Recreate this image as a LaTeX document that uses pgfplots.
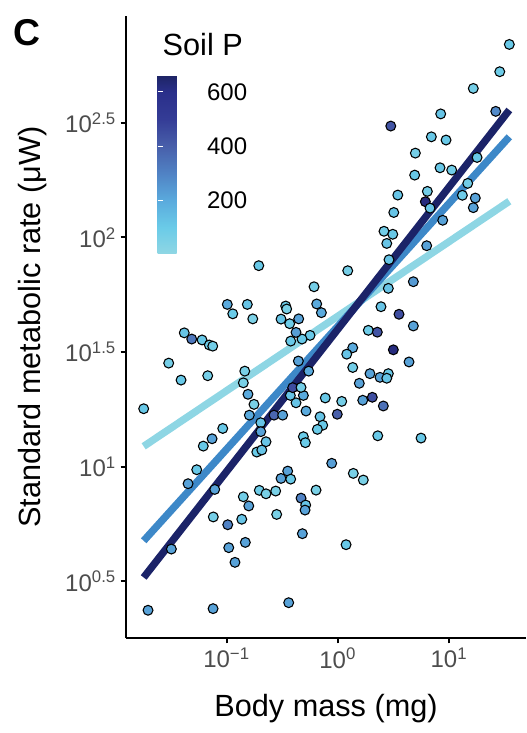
\documentclass[border=0pt]{standalone}
\usepackage{pgfplots}
\usepackage{pgfplotstable}
\pgfplotsset{compat=1.18}
\usepackage{fontspec}
\setmainfont{Liberation Sans}
\definecolor{tickgray}{HTML}{4D4D4D}
\definecolor{lineLow}{HTML}{8ED6E4}
\definecolor{lineMid}{HTML}{3D88C8}
\definecolor{lineHigh}{HTML}{1B2368}

% log10 body mass (mg), log10 SMR (uW), soil P
\pgfplotstableread{
lx ly P
1.543 2.842 110
1.457 2.723 90
1.219 2.650 70
1.421 2.550 280
0.926 2.539 120
0.477 2.486 430
0.842 2.439 110
0.974 2.425 110
0.698 2.368 70
1.253 2.349 110
0.920 2.304 110
1.025 2.294 80
0.692 2.272 110
0.540 2.185 120
0.806 2.201 80
0.788 2.156 620
0.830 2.128 120
1.169 2.236 80
1.121 2.184 90
1.237 2.172 220
1.219 2.130 220
0.504 2.109 120
0.944 2.075 220
0.416 2.027 80
0.495 2.014 110
0.441 1.974 120
0.800 1.964 220
0.461 1.903 120
-0.710 1.877 110
0.090 1.855 70
0.680 1.807 240
0.455 1.778 120
-0.213 1.785 70
0.389 1.698 120
0.551 1.665 450
0.680 1.614 220
0.275 1.595 90
0.356 1.587 430
0.135 1.519 200
0.081 1.491 120
0.500 1.510 620
0.641 1.457 220
0.135 1.433 80
0.290 1.406 220
0.455 1.406 110
0.380 1.390 220
0.441 1.386 120
0.194 1.364 220
0.036 1.285 70
0.225 1.290 220
0.311 1.303 450
0.410 1.265 350
-0.004 1.229 400
0.749 1.125 110
0.360 1.135 110
0.140 0.971 60
0.230 0.942 60
0.075 0.660 110
-0.054 1.015 230
-0.195 0.898 60
-0.112 1.300 110
-0.159 1.218 120
-0.135 1.181 110
-0.183 1.163 100
-0.309 1.131 100
-0.291 1.105 100
-0.285 1.243 200
-0.375 1.279 120
-0.426 1.311 120
-0.309 1.311 200
-0.405 1.345 450
-0.330 1.346 70
-0.573 1.225 380
-0.495 1.225 220
-0.354 1.461 220
-0.261 1.417 200
-0.249 1.573 110
-0.321 1.557 110
-0.423 1.548 110
-0.375 1.586 230
-0.432 1.624 90
-0.351 1.645 220
-0.510 1.644 120
-0.468 1.701 100
-0.459 1.688 60
-0.189 1.710 200
-0.147 1.672 200
-0.993 1.708 200
-0.813 1.708 120
-0.944 1.667 100
-0.764 1.645 50
-0.836 1.417 60
-0.849 1.366 60
-0.807 1.316 200
-0.753 1.272 60
-0.795 1.225 200
-0.692 1.192 120
-0.692 1.153 220
-0.645 1.109 120
-0.728 1.064 100
-0.683 1.073 120
-0.450 0.981 220
-0.510 0.949 220
-0.423 0.946 110
-0.705 0.897 90
-0.645 0.882 60
-0.558 0.894 60
-0.849 0.869 80
-0.800 0.829 220
-0.330 0.863 300
-0.288 0.833 120
-0.294 0.811 220
-0.549 0.792 60
-0.863 0.771 120
-1.119 0.781 70
-0.989 0.747 300
-0.318 0.708 220
-0.831 0.670 220
-0.980 0.647 220
-1.496 0.641 220
-0.924 0.583 220
-1.706 0.374 220
-1.121 0.381 220
-0.441 0.407 220
-1.380 1.584 120
-1.313 1.557 330
-1.220 1.553 110
-1.155 1.531 90
-1.124 1.526 80
-1.520 1.452 70
-1.409 1.378 110
-1.169 1.397 70
-1.745 1.253 110
-1.034 1.167 110
-1.130 1.122 220
-1.209 1.090 110
-1.268 0.987 110
-1.346 0.926 220
-1.106 0.901 220
}\pts

% fitted lines (log10 scale)
\pgfplotstableread{
lx ly
-1.745 1.089
1.543 2.158
}\lineLowT
\pgfplotstableread{
lx ly
-1.745 0.677
1.543 2.439
}\lineMidT
\pgfplotstableread{
lx ly
-1.745 0.517
1.543 2.556
}\lineHighT

\begin{document}
\begin{tikzpicture}
\useasboundingbox (-94.5pt,-71.25pt) rectangle (300pt,478.5pt);
\begin{axis}[
  scale only axis,
  width=300pt, height=466.5pt,
  xmin=-1.904, xmax=1.693,
  ymin=0.253, ymax=2.966,
  axis lines=left,
  axis line style={-, line width=1.5pt, black},
  xtick={-1,0,1},
  xticklabels={10\textsuperscript{−1},10\textsuperscript{0},10\textsuperscript{1}},
  ytick={0.5,1,1.5,2,2.5},
  yticklabels={10\textsuperscript{0.5},10\textsuperscript{1},10\textsuperscript{1.5},10\textsuperscript{2},10\textsuperscript{2.5}},
  tick align=outside,
  major tick length=4pt,
  every tick/.style={black, line width=1.5pt},
  ticklabel style={font=\fontsize{18}{20}\selectfont, text=tickgray},
  xlabel={Body mass (mg)},
  ylabel={Standard metabolic rate (μW)},
  label style={font=\fontsize{23}{26}\selectfont},
  xlabel style={at={(axis description cs:0.5,-0.114)}, anchor=center},
  ylabel style={at={(axis description cs:-0.2325,0.5)}, anchor=center},
  colormap={soil}{rgb255(5)=(142,214,228); rgb255(100)=(106,203,232); rgb255(200)=(90,170,221); rgb255(300)=(80,130,196); rgb255(400)=(72,95,170); rgb255(500)=(52,60,150); rgb255(600)=(42,47,138); rgb255(662)=(29,36,100)},
  point meta min=5, point meta max=662,
  colorbar,
  colorbar style={
    at={(parent axis.north west)}, anchor=north west,
    xshift=15.25pt, yshift=-44.25pt,
    width=27.5pt, height=133.5pt,
    ytick={200,400,600},
    yticklabels={200,400,600},
    ytick pos=both, yticklabel pos=right,
    tick align=inside,
    major tick length=4pt,
    every tick/.style={white, line width=0.6pt},
    axis line style={draw=none},
    yticklabel style={font=\fontsize{18}{20}\selectfont, text=black, xshift=6pt},
  },
  clip=false,
]
\addplot[lineLow, line width=5.5pt] table[x=lx,y=ly] {\lineLowT};
\addplot[lineMid, line width=5.5pt] table[x=lx,y=ly] {\lineMidT};
\addplot[lineHigh, line width=5.5pt] table[x=lx,y=ly] {\lineHighT};
\addplot[scatter, only marks, mark=*, mark size=3.7pt, scatter src=explicit,
  scatter/use mapped color={draw=black, fill=mapped color},
  mark options={line width=0.8pt}] table[x=lx,y=ly,meta=P] {\pts};
\node[anchor=base west, font=\fontsize{23}{26}\selectfont] at (rel axis cs:0.08,0.9357) {Soil P};
\node[anchor=center, font=\bfseries\fontsize{28}{30}\selectfont] at (rel axis cs:-0.2475,0.9727) {C};
\end{axis}
\end{tikzpicture}
\end{document}
